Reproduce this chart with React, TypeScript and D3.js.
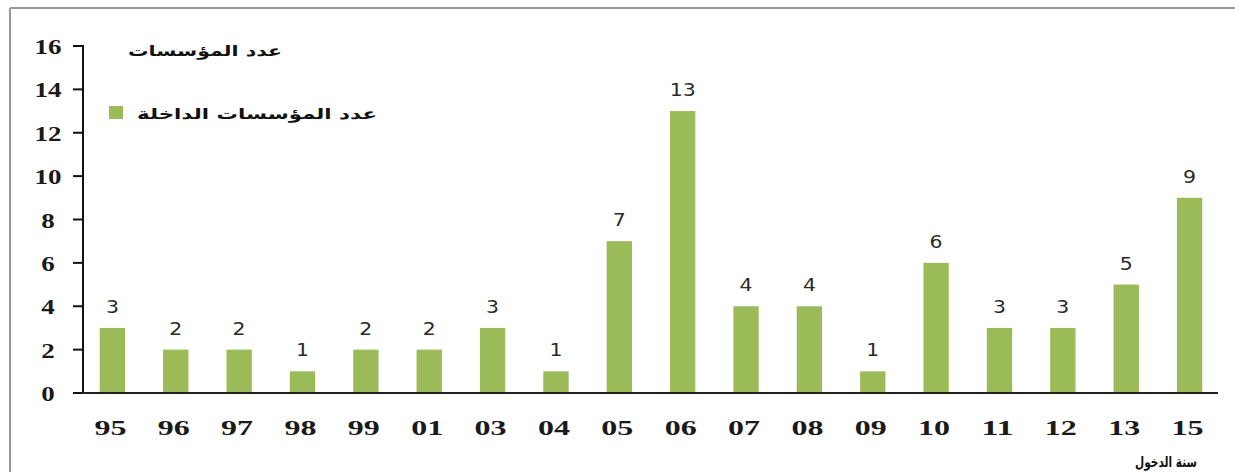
import React from "react";
import * as d3 from "d3";

const years = ["95", "96", "97", "98", "99", "01", "03", "04", "05", "06", "07", "08", "09", "10", "11", "12", "13", "15"];
const counts = [3, 2, 2, 1, 2, 2, 3, 1, 7, 13, 4, 4, 1, 6, 3, 3, 5, 9];
const yTicks = [0, 2, 4, 6, 8, 10, 12, 14, 16];
const chartTitle = "عدد المؤسسات";
const seriesName = "عدد المؤسسات الداخلة";
const xTitle = "سنة الدخول";

const W = 1235;
const H = 472;
const BAR = "#9bbb59";

export default function App() {
  const x = d3.scaleBand<string>().domain(years).range([82, 1220]).paddingInner(0.6).paddingOuter(0.28);
  const y = d3.scaleLinear().domain([0, 16]).range([393, 46]);
  const serif = "'Liberation Serif', 'DejaVu Serif', serif";
  const sans = "'DejaVu Sans', Verdana, sans-serif";
  return (
    <svg width={W} height={H} style={{ position: "absolute", left: 0, top: 0, background: "#fff" }}>
      <rect x={0} y={0} width={W} height={H} fill="#fff" />
      {/* frame */}
      <line x1={10} y1={8} x2={W} y2={8} stroke="#9a9a9a" strokeWidth={2} />
      <line x1={10} y1={8} x2={10} y2={H} stroke="#9a9a9a" strokeWidth={2} />

      {/* bars */}
      {counts.map((v, i) => (
        <rect key={years[i]} x={x(years[i])} y={y(v)} width={x.bandwidth()} height={y(0) - y(v)} fill={BAR} />
      ))}
      {/* value labels */}
      {counts.map((v, i) => (
        <text
          key={"l" + years[i]}
          x={(x(years[i]) as number) + x.bandwidth() / 2}
          y={y(v) - 15}
          textAnchor="middle"
          fontFamily={sans}
          fontSize={17}
          fill="#2a2a2a"
          textLength={String(v).length * 13}
          lengthAdjust="spacingAndGlyphs"
        >
          {v}
        </text>
      ))}

      {/* y axis */}
      <line x1={83} y1={y(16) - 1} x2={83} y2={y(0) + 1} stroke="#111" strokeWidth={2} />
      {yTicks.map((t) => (
        <g key={"t" + t}>
          <line x1={73} x2={83} y1={y(t)} y2={y(t)} stroke="#111" strokeWidth={2} />
          <text
            x={48}
            y={y(t) + 8}
            textAnchor="middle"
            fontFamily={serif}
            fontWeight="bold"
            fontSize={22}
            fill="#1a1a1a"
            textLength={String(t).length * 13.5}
            lengthAdjust="spacingAndGlyphs"
          >
            {t}
          </text>
        </g>
      ))}

      {/* x axis */}
      <line x1={82} x2={1218} y1={y(0)} y2={y(0)} stroke="#222" strokeWidth={2} />
      {years.map((yr) => (
        <text
          key={"x" + yr}
          x={(x(yr) as number) + x.bandwidth() / 2 - 2}
          y={435}
          textAnchor="middle"
          fontFamily={serif}
          fontWeight="bold"
          fontSize={21}
          fill="#1a1a1a"
          textLength={32}
          lengthAdjust="spacingAndGlyphs"
        >
          {yr}
        </text>
      ))}

      {/* titles & legend */}
      <text x={282} y={56} textAnchor="end" fontFamily={sans} fontWeight="bold" fontSize={15} fill="#111"
        textLength={154} lengthAdjust="spacingAndGlyphs">
        {chartTitle}
      </text>
      <rect x={109} y={106} width={14} height={13} fill={BAR} />
      <text x={377} y={119} textAnchor="end" fontFamily={sans} fontWeight="bold" fontSize={15} fill="#111"
        textLength={240} lengthAdjust="spacingAndGlyphs">
        {seriesName}
      </text>
      <text x={1197} y={467} textAnchor="end" fontFamily={sans} fontWeight="bold" fontSize={15} fill="#111"
        textLength={62} lengthAdjust="spacingAndGlyphs">
        {xTitle}
      </text>
    </svg>
  );
}
